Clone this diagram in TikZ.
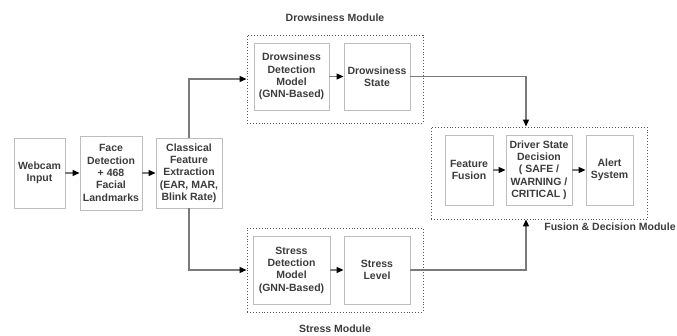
\documentclass[tikz,border=0pt]{standalone}
\usepackage{fontspec}
\setmainfont{Liberation Sans}
\usetikzlibrary{arrows.meta, positioning}

\definecolor{boxline}{HTML}{BDBDBD}
\definecolor{wireline}{HTML}{7A7A7A}
\definecolor{txtgray}{HTML}{3C3C3C}
\definecolor{dotline}{HTML}{555555}

\begin{document}
\begin{tikzpicture}[x=1pt, y=-1pt, font=\bfseries\fontsize{10.5}{12.3}\selectfont,
    >={Triangle[length=7pt, width=6pt, color=black]}]
    \tikzset{
        pbox/.style={draw=boxline, line width=0.9pt, align=center, text=txtgray,
            inner sep=1pt, minimum height=70pt},
        mbox/.style={draw=dotline, dotted, line width=0.9pt},
        mlabel/.style={text=txtgray},
        wire/.style={draw=wireline, line width=1.2pt, ->},
    }
    \useasboundingbox (0,0) rectangle (677,336);

    % input chain
    \node[pbox, minimum width=51pt] (cam) at (39.5,173) {Webcam\\Input};
    \node[pbox, minimum width=62pt, minimum height=74pt] (face) at (111,173)
        {Face\\Detection\\+ 468\\Facial\\Landmarks};
    \node[pbox, minimum width=66pt] (feat) at (189,173)
        {Classical\\Feature\\Extraction\\(EAR, MAR,\\Blink Rate)};

    % drowsiness module
    \node[mbox, minimum width=176pt, minimum height=88pt] (dmod) at (335,79) {};
    \node[mlabel] (dlab) at (335,18) {Drowsiness Module};
    \node[pbox, minimum width=75pt, minimum height=67pt] (ddm) at (291.5,76.5)
        {Drowsiness\\Detection\\Model\\(GNN-Based)};
    \node[pbox, minimum width=66pt, minimum height=67pt] (dst) at (377,76.5)
        {Drowsiness\\State};

    % stress module
    \node[mbox, minimum width=176pt, minimum height=84pt] (smod) at (335,270) {};
    \node[mlabel] (slab) at (335,329) {Stress Module};
    \node[pbox, minimum width=77pt, minimum height=68pt] (sdm) at (291.5,270)
        {Stress\\Detection\\Model\\(GNN-Based)};
    \node[pbox, minimum width=66pt, minimum height=68pt] (slv) at (377,270)
        {Stress\\Level};

    % fusion & decision module
    \node[mbox, minimum width=216pt, minimum height=92pt] (fmod) at (539,173) {};
    \node[mlabel] (flab) at (610,227) {Fusion \& Decision Module};
    \node[pbox, minimum width=48pt] (fuse) at (469,170) {Feature\\Fusion};
    \node[pbox, minimum width=66pt] (dec) at (539,170)
        {Driver State\\Decision\\( SAFE /\\WARNING /\\CRITICAL )};
    \node[pbox, minimum width=47pt] (alert) at (609.5,170) {Alert\\System};

    \draw[wire] (cam) -- (face);
    \draw[wire] (face) -- (feat);
    \draw[wire] (feat.north) |- (dmod.west);
    \draw[wire] (feat.south) |- (smod.west);
    \draw[wire] (ddm) -- (dst);
    \draw[wire] (sdm) -- (slv);
    \draw[wire] (dst.east) -| ([xshift=-13pt]fmod.north);
    \draw[wire] (slv.east) -| ([xshift=-13pt]fmod.south);
    \draw[wire] (fuse) -- (dec);
    \draw[wire] (dec) -- (alert);
\end{tikzpicture}
\end{document}
